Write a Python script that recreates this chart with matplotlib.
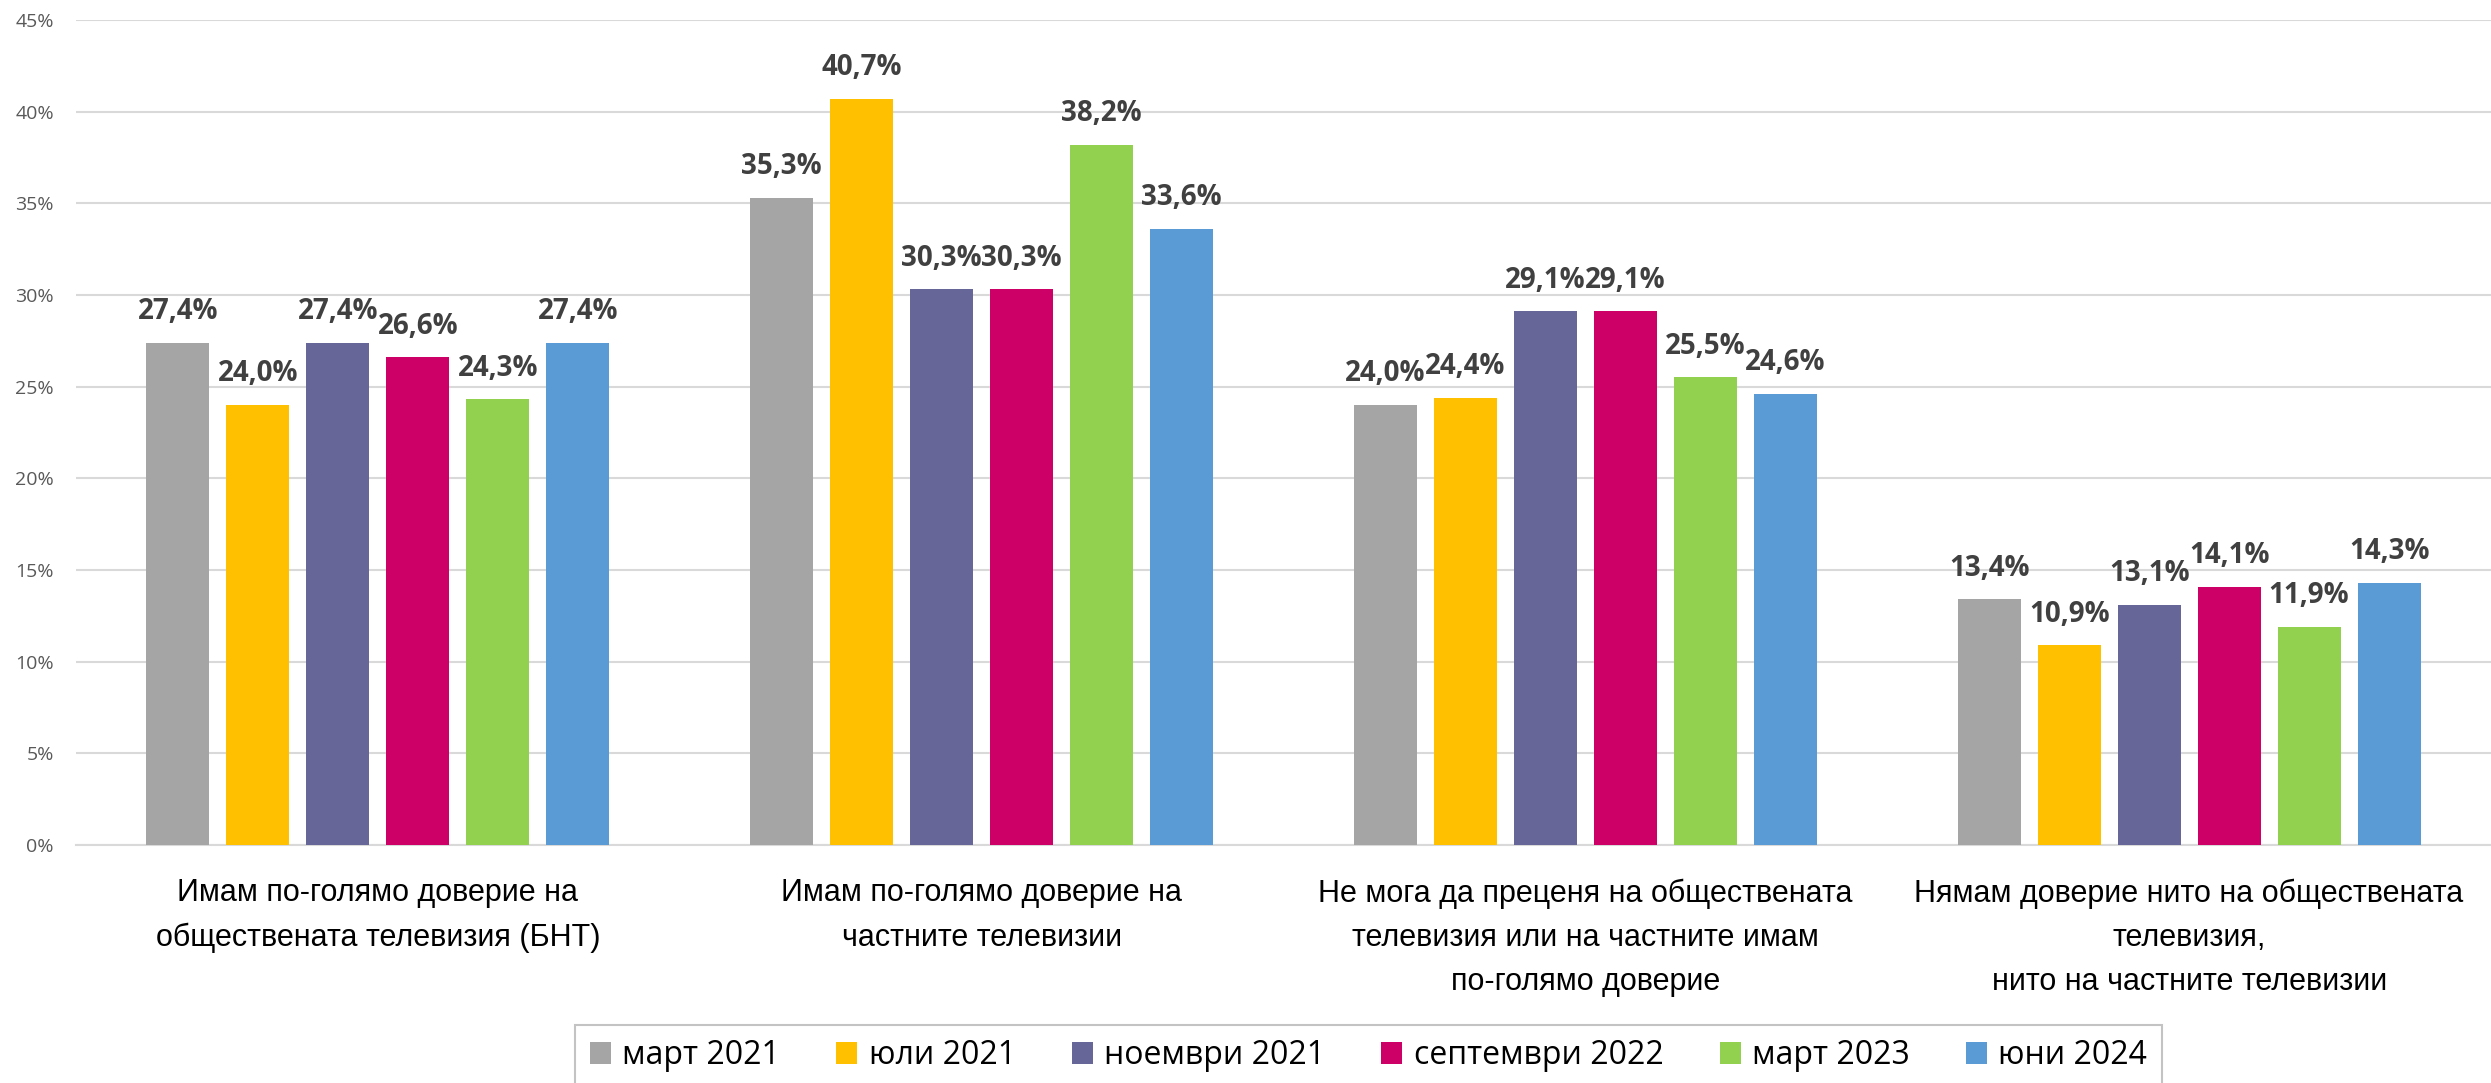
import matplotlib
matplotlib.use("Agg")
import matplotlib.pyplot as plt
from matplotlib.ticker import FuncFormatter
import numpy as np

categories = [
    "Имам по-голямо доверие на\nобществената телевизия (БНТ)",
    "Имам по-голямо доверие на\nчастните телевизии",
    "Не мога да преценя на обществената\nтелевизия или на частните имам\nпо-голямо доверие",
    "Нямам доверие нито на обществената\nтелевизия,\nнито на частните телевизии",
]
periods = ["март 2021", "юли 2021", "ноември 2021", "септември 2022", "март 2023", "юни 2024"]

mar_2021 = [27.4, 35.3, 24.0, 13.4]
jul_2021 = [24.0, 40.7, 24.4, 10.9]
nov_2021 = [27.4, 30.3, 29.1, 13.1]
sep_2022 = [26.6, 30.3, 29.1, 14.1]
mar_2023 = [24.3, 38.2, 25.5, 11.9]
jun_2024 = [27.4, 33.6, 24.6, 14.3]
series = [mar_2021, jul_2021, nov_2021, sep_2022, mar_2023, jun_2024]

colors = ["#A5A5A5", "#FFC000", "#666699", "#CC0066", "#92D050", "#5B9BD5"]

fig = plt.figure(figsize=(24.91, 10.83), dpi=100)
ax = fig.add_axes([76 / 2491, 238 / 1083, 1 - 76 / 2491, (845 - 20) / 1083])

x = np.arange(len(categories))
step = 0.1325
width = 0.104
for i, (vals, name, c) in enumerate(zip(series, periods, colors)):
    bars = ax.bar(x + (i - 2.5) * step, vals, width, color=c, label=name, zorder=3)
    ax.bar_label(bars, labels=[f"{v:.1f}%".replace(".", ",") for v in vals],
                 padding=12, fontsize=20, fontweight="bold", color="#404040",
                 family=["Liberation Sans Narrow", "Open Sans"])

ax.set_xlim(-0.5, 3.5)
ax.set_ylim(0, 45)
ax.set_yticks(range(0, 46, 5))
ax.yaxis.set_major_formatter(FuncFormatter(lambda v, p: f"{v:.0f}%"))
ax.grid(axis="y", color="#D9D9D9", linewidth=1.5, zorder=0)
ax.set_axisbelow(True)
for s in ["top", "right", "left"]:
    ax.spines[s].set_visible(False)
ax.spines["bottom"].set_color("#D9D9D9")
ax.spines["bottom"].set_linewidth(1.5)
ax.tick_params(axis="y", length=0, pad=16, labelsize=14, labelcolor="#595959")
for lab in ax.get_yticklabels():
    lab.set_family("Open Sans")

ax.set_xticks(x)
ax.set_xticklabels(categories, fontsize=22, family="Liberation Sans",
                   linespacing=1.62, color="black")
ax.tick_params(axis="x", length=0, pad=24)

leg = fig.legend(loc="upper center", bbox_to_anchor=(1368.5 / 2491, 1 - 1025 / 1083),
                 ncol=6, frameon=True, fancybox=False, handlelength=0.66,
                 handleheight=0.66, handletextpad=0.36, columnspacing=1.75,
                 borderpad=0.45, borderaxespad=0,
                 prop={"family": "Open Sans", "size": 23})
leg.get_frame().set_edgecolor("#B4B4B4")
leg.get_frame().set_linewidth(1.5)

fig.savefig("out.png", dpi=100)
